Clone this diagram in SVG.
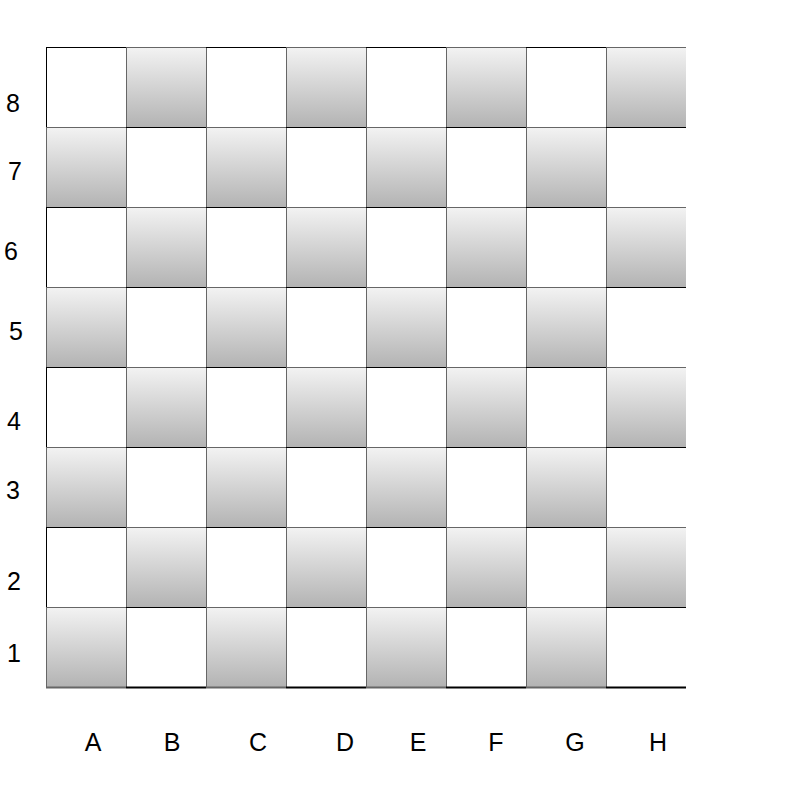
<svg xmlns="http://www.w3.org/2000/svg" width="799" height="799" viewBox="0 0 799 799">
<defs>
<linearGradient id="gr" x1="0" y1="0" x2="0" y2="1">
<stop offset="0" stop-color="#f3f3f3"/>
<stop offset="1" stop-color="#b3b3b3"/>
</linearGradient>
<style>
.w{fill:#ffffff}
.g{fill:url(#gr)}
.lk{stroke:#000000;stroke-width:1;fill:none}
.lg{stroke:#666666;stroke-width:1;fill:none}
.t{font-family:"Liberation Sans",Arial,sans-serif;font-size:25px;fill:#000000;text-anchor:middle}
</style>
</defs>
<rect x="0" y="0" width="799" height="799" fill="#ffffff"/>
<g id="cells">
<g id="row8">
<rect id="A8" class="w" x="46" y="47" width="80" height="80"/><rect id="B8" class="g" x="126" y="47" width="80" height="80"/><rect id="C8" class="w" x="206" y="47" width="80" height="80"/><rect id="D8" class="g" x="286" y="47" width="80" height="80"/><rect id="E8" class="w" x="366" y="47" width="80" height="80"/><rect id="F8" class="g" x="446" y="47" width="80" height="80"/><rect id="G8" class="w" x="526" y="47" width="80" height="80"/><rect id="H8" class="g" x="606" y="47" width="80" height="80"/>
</g>
<g id="row7">
<rect id="A7" class="g" x="46" y="127" width="80" height="80"/><rect id="B7" class="w" x="126" y="127" width="80" height="80"/><rect id="C7" class="g" x="206" y="127" width="80" height="80"/><rect id="D7" class="w" x="286" y="127" width="80" height="80"/><rect id="E7" class="g" x="366" y="127" width="80" height="80"/><rect id="F7" class="w" x="446" y="127" width="80" height="80"/><rect id="G7" class="g" x="526" y="127" width="80" height="80"/><rect id="H7" class="w" x="606" y="127" width="80" height="80"/>
</g>
<g id="row6">
<rect id="A6" class="w" x="46" y="207" width="80" height="80"/><rect id="B6" class="g" x="126" y="207" width="80" height="80"/><rect id="C6" class="w" x="206" y="207" width="80" height="80"/><rect id="D6" class="g" x="286" y="207" width="80" height="80"/><rect id="E6" class="w" x="366" y="207" width="80" height="80"/><rect id="F6" class="g" x="446" y="207" width="80" height="80"/><rect id="G6" class="w" x="526" y="207" width="80" height="80"/><rect id="H6" class="g" x="606" y="207" width="80" height="80"/>
</g>
<g id="row5">
<rect id="A5" class="g" x="46" y="287" width="80" height="80"/><rect id="B5" class="w" x="126" y="287" width="80" height="80"/><rect id="C5" class="g" x="206" y="287" width="80" height="80"/><rect id="D5" class="w" x="286" y="287" width="80" height="80"/><rect id="E5" class="g" x="366" y="287" width="80" height="80"/><rect id="F5" class="w" x="446" y="287" width="80" height="80"/><rect id="G5" class="g" x="526" y="287" width="80" height="80"/><rect id="H5" class="w" x="606" y="287" width="80" height="80"/>
</g>
<g id="row4">
<rect id="A4" class="w" x="46" y="367" width="80" height="80"/><rect id="B4" class="g" x="126" y="367" width="80" height="80"/><rect id="C4" class="w" x="206" y="367" width="80" height="80"/><rect id="D4" class="g" x="286" y="367" width="80" height="80"/><rect id="E4" class="w" x="366" y="367" width="80" height="80"/><rect id="F4" class="g" x="446" y="367" width="80" height="80"/><rect id="G4" class="w" x="526" y="367" width="80" height="80"/><rect id="H4" class="g" x="606" y="367" width="80" height="80"/>
</g>
<g id="row3">
<rect id="A3" class="g" x="46" y="447" width="80" height="80"/><rect id="B3" class="w" x="126" y="447" width="80" height="80"/><rect id="C3" class="g" x="206" y="447" width="80" height="80"/><rect id="D3" class="w" x="286" y="447" width="80" height="80"/><rect id="E3" class="g" x="366" y="447" width="80" height="80"/><rect id="F3" class="w" x="446" y="447" width="80" height="80"/><rect id="G3" class="g" x="526" y="447" width="80" height="80"/><rect id="H3" class="w" x="606" y="447" width="80" height="80"/>
</g>
<g id="row2">
<rect id="A2" class="w" x="46" y="527" width="80" height="80"/><rect id="B2" class="g" x="126" y="527" width="80" height="80"/><rect id="C2" class="w" x="206" y="527" width="80" height="80"/><rect id="D2" class="g" x="286" y="527" width="80" height="80"/><rect id="E2" class="w" x="366" y="527" width="80" height="80"/><rect id="F2" class="g" x="446" y="527" width="80" height="80"/><rect id="G2" class="w" x="526" y="527" width="80" height="80"/><rect id="H2" class="g" x="606" y="527" width="80" height="80"/>
</g>
<g id="row1">
<rect id="A1" class="g" x="46" y="607" width="80" height="80"/><rect id="B1" class="w" x="126" y="607" width="80" height="80"/><rect id="C1" class="g" x="206" y="607" width="80" height="80"/><rect id="D1" class="w" x="286" y="607" width="80" height="80"/><rect id="E1" class="g" x="366" y="607" width="80" height="80"/><rect id="F1" class="w" x="446" y="607" width="80" height="80"/><rect id="G1" class="g" x="526" y="607" width="80" height="80"/><rect id="H1" class="w" x="606" y="607" width="80" height="80"/>
</g>
</g>
<g id="grid">
<path class="lg" d="M126.5 47V687M206.5 47V687M286.5 47V687M366.5 47V687M446.5 47V687M526.5 47V687M606.5 47V687"/>
<path class="lg" d="M46.5 127V207M46.5 287V367M46.5 447V527M46.5 607V688"/>
<path class="lk" d="M46.5 47V127M46.5 207V287M46.5 367V447M46.5 527V607"/>
<path class="lg" d="M126 47.5h80M286 47.5h80M446 47.5h80M606 47.5h80 M46 127.5h80M206 127.5h80M366 127.5h80M526 127.5h80 M126 207.5h80M286 207.5h80M446 207.5h80M606 207.5h80 M46 287.5h80M206 287.5h80M366 287.5h80M526 287.5h80 M126 367.5h80M286 367.5h80M446 367.5h80M606 367.5h80 M46 447.5h80M206 447.5h80M366 447.5h80M526 447.5h80 M126 527.5h80M286 527.5h80M446 527.5h80M606 527.5h80 M46 607.5h80M206 607.5h80M366 607.5h80M526 607.5h80"/>
<path class="lk" d="M46 47.5h80M206 47.5h80M366 47.5h80M526 47.5h80 M126 127.5h80M286 127.5h80M446 127.5h80M606 127.5h80 M46 207.5h80M206 207.5h80M366 207.5h80M526 207.5h80 M126 287.5h80M286 287.5h80M446 287.5h80M606 287.5h80 M46 367.5h80M206 367.5h80M366 367.5h80M526 367.5h80 M126 447.5h80M286 447.5h80M446 447.5h80M606 447.5h80 M46 527.5h80M206 527.5h80M366 527.5h80M526 527.5h80 M126 607.5h80M286 607.5h80M446 607.5h80M606 607.5h80"/>
<path class="lg" style="stroke-width:2" d="M46 687.5h80M206 687.5h80M366 687.5h80M526 687.5h80"/>
<path class="lk" style="stroke-width:2" d="M126 687.5h80M286 687.5h80M446 687.5h80M606 687.5h80"/>
</g>
<g id="labels">
<text class="t" x="13" y="112">8</text>
<text class="t" x="15" y="180">7</text>
<text class="t" x="11" y="260">6</text>
<text class="t" x="16" y="340">5</text>
<text class="t" x="14" y="430">4</text>
<text class="t" x="13" y="499">3</text>
<text class="t" x="14" y="590">2</text>
<text class="t" x="14" y="662">1</text>
<text class="t" x="93" y="751">A</text>
<text class="t" x="172" y="751">B</text>
<text class="t" x="258" y="751">C</text>
<text class="t" x="345" y="751">D</text>
<text class="t" x="418" y="751">E</text>
<text class="t" x="496" y="751">F</text>
<text class="t" x="575" y="751">G</text>
<text class="t" x="658" y="751">H</text>
</g>
</svg>
